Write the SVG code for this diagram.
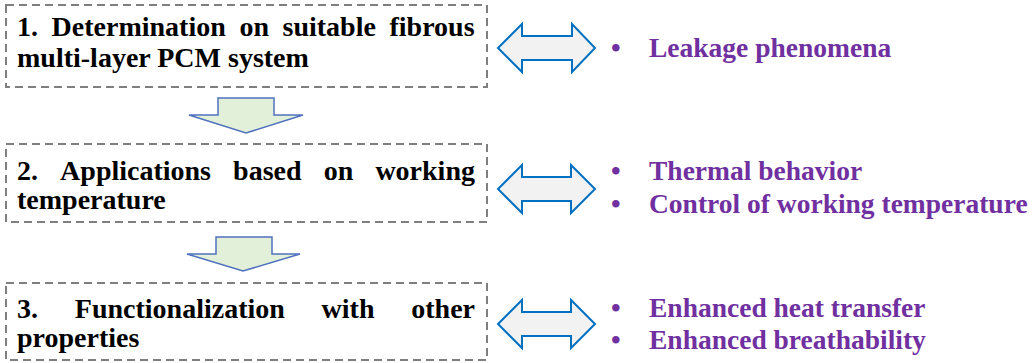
<svg xmlns="http://www.w3.org/2000/svg" width="1035" height="363" viewBox="0 0 1035 363">
<style>
.box{fill:#ffffff;stroke:#7f7f7f;stroke-width:2;stroke-dasharray:8,5}
.dbl{fill:#F2F2F2;stroke:#0070C0;stroke-width:2;stroke-linejoin:miter}
.down{fill:#E2F0D9;stroke:#4F71BE;stroke-width:1.5;stroke-linejoin:miter}
.bt{font-family:"Times New Roman","Liberation Serif",serif;font-weight:bold;font-size:28px;fill:#000000}
.rt{font-family:"Times New Roman","Liberation Serif",serif;font-weight:bold;font-size:27.5px;fill:#7030A0}
</style>
<rect width="1035" height="363" fill="#ffffff"/>
<g id="node1">
<rect class="box" x="6" y="5" width="481" height="82"/>
<text class="bt"><tspan x="17" y="36">1.</tspan><tspan x="51.6" y="36">Determination</tspan><tspan x="239.4" y="36">on</tspan><tspan x="282.5" y="36">suitable</tspan><tspan x="389.5" y="36">fibrous</tspan></text>
<text class="bt" x="17" y="67">multi-layer PCM system</text>
</g>
<g id="node2">
<rect class="box" x="6" y="144" width="481" height="78"/>
<text class="bt"><tspan x="17" y="180">2.</tspan><tspan x="60.1" y="180">Applications</tspan><tspan x="233.1" y="180">based</tspan><tspan x="323.7" y="180">on</tspan><tspan x="375.4" y="180">working</tspan></text>
<text class="bt" x="17" y="209">temperature</text>
</g>
<g id="node3">
<rect class="box" x="6" y="283" width="481" height="77"/>
<text class="bt"><tspan x="17" y="318">3.</tspan><tspan x="74.8" y="318">Functionalization</tspan><tspan x="321.6" y="318">with</tspan><tspan x="411.3" y="318">other</tspan></text>
<text class="bt" x="17" y="347">properties</text>
</g>
<g id="list1">
<text class="rt" x="611" y="57">•</text>
<text class="rt" x="649" y="57">Leakage phenomena</text>
</g>
<g id="list2">
<text class="rt" x="611" y="180">•</text>
<text class="rt" x="649" y="180">Thermal behavior</text>
<text class="rt" x="611" y="213">•</text>
<text class="rt" x="649" y="213">Control of working temperature</text>
</g>
<g id="list3">
<text class="rt" x="611" y="317">•</text>
<text class="rt" x="649" y="317">Enhanced heat transfer</text>
<text class="rt" x="611" y="349">•</text>
<text class="rt" x="649" y="349">Enhanced breathability</text>
</g>
<g id="connectors">
<path class="down" d="M218,98 H274 V115 H303 L246,133 L189,115 H218 Z"/>
<path class="down" d="M216,237 H272 V254 H300 L243,271 L187,254 H216 Z"/>
<path class="dbl" d="M498,48 L522,24 V36 H572 V24 L595,48 L572,72 V60 H522 V72 Z"/>
<path class="dbl" d="M498,189 L522,165 V177 H571 V165 L595,189 L571,213 V201 H522 V213 Z"/>
<path class="dbl" d="M498,324 L522,300 V312 H571 V300 L595,324 L571,348 V336 H522 V348 Z"/>
</g>
</svg>
